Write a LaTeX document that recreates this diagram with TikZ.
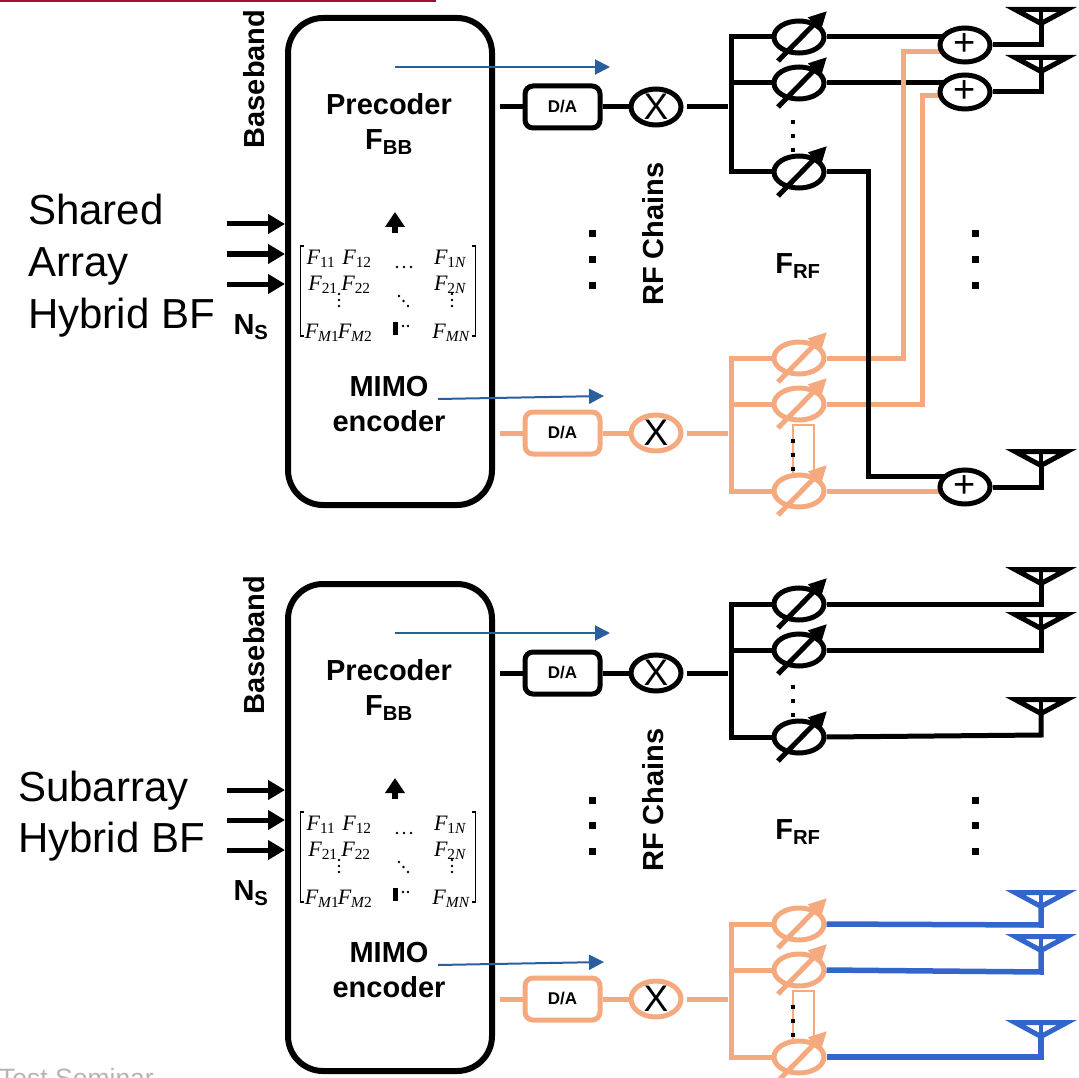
\documentclass[tikz,border=0pt]{standalone}
\usepackage{fontspec}
\setmainfont{Liberation Sans}
\newfontfamily\matfont{Liberation Serif}
\usetikzlibrary{arrows.meta, shapes.geometric, calc, backgrounds}
\definecolor{rfOrange}{HTML}{F4A97F}
\definecolor{rfBlue}{HTML}{3366CC}
\definecolor{flowBlue}{HTML}{2A5F9E}
\definecolor{ruleRed}{HTML}{A01030}
\definecolor{footGray}{HTML}{B4B4B4}
\newcommand{\fsz}[1]{\fontsize{#1}{#1}\selectfont}
\newcommand{\matF}[1]{{\matfont\itshape F\textsubscript{\upshape #1}}}
\begin{document}
\begin{tikzpicture}[x=1pt, y=-1pt,
    bbbox/.style={draw, rounded corners=35pt, line width=6pt, minimum width=204pt, minimum height=487pt, inner sep=0pt},
    dabox/.style={rectangle, rounded corners=8pt, line width=5pt, fill=white, minimum width=75pt, minimum height=42pt, inner sep=0pt, font=\fsz{17}\bfseries},
    mixer/.style={ellipse, line width=5pt, fill=white, minimum width=50pt, minimum height=34pt, inner sep=0pt, text=black, font=\fsz{37}},
    shifter/.style={ellipse, line width=5pt, fill=white, minimum width=50pt, minimum height=32pt, inner sep=0pt},
    combiner/.style={ellipse, draw, line width=5pt, fill=white, minimum width=50pt, minimum height=34pt, inner sep=0pt, font=\fsz{38}},
    wire/.style={line width=5pt, line join=miter},
    tune/.style={-{Triangle[length=18pt,width=17pt]}, line width=5pt},
    feed/.style={-{Triangle[length=17pt,width=19pt]}, line width=5pt},
    flow/.style={-{Triangle[length=15pt,width=15pt]}, line width=2pt, color=flowBlue},
    lbl/.style={font=\fsz{29}\bfseries, align=center, inner sep=0pt},
    side/.style={font=\fsz{42}, align=left, anchor=west, inner sep=0pt},
    ent/.style={font=\fsz{22}, inner sep=0pt},
    antenna/.pic={
      \draw[line width=5pt, line join=miter, miter limit=10] (-26,0) -- (26,0) -- (0,14) -- cycle;
      \draw[line width=3.5pt] (0,0) -- (0,14);
      \coordinate (-feed) at (0,14);
    }]
    \useasboundingbox (0,0) rectangle (1079,1078);
    \draw[line width=2pt, color=ruleRed] (0,1) -- (436,1);
    \node[font=\fsz{26.5}, text=footGray, anchor=base west, inner sep=0pt] (foot) at (-1,1087) {Test Seminar};
    \node[side] (sharedlbl) at (28,266) {Shared\\[10pt]Array\\[10pt]Hybrid BF};
    \node[side] (sublbl) at (18,816) {Subarray\\[9pt]Hybrid BF};
    % thin orange frames behind the dots
    \draw[line width=1.5pt, color=rfOrange] (793,475) -- (793,425) -- (814,425) -- (814,470);
    \draw[line width=1.5pt, color=rfOrange] (793,1041) -- (793,991) -- (814,991) -- (814,1036);
    % left part, same in both panels
    \foreach \p/\dy in {a/0, b/566}{
      \begin{scope}[shift={(0,\dy)}]
        \node[bbbox] (bb\p) at (390,261.5) {};
        \node[lbl, rotate=90] (band\p) at (254,79) {Baseband};
        \node[lbl] (prec\p) at (389,124) {Precoder\\[6pt]F\textsubscript{BB}};
        \node[lbl] (mimo\p) at (389,404) {MIMO\\[6pt]encoder};
        \node[lbl, rotate=90] (chain\p) at (653,234) {RF Chains};
        \node[lbl] (frf\p) at (798,266) {F\textsubscript{RF}};
        \node[lbl] (ns\p) at (251,327) {N\textsubscript{S}};
        \foreach \n/\yy in {1/224, 2/254, 3/284}{
          \coordinate (in\p\n) at (227,\yy);
          \draw[feed] (in\p\n) -- (in\p\n -| bb\p.west);
        }
        \coordinate (fa\p) at (395,67);  \coordinate (fb\p) at (610,67);
        \coordinate (fc\p) at (438,399); \coordinate (fd\p) at (604,396);
        \draw[flow] (fa\p) -- (fb\p);
        \draw[flow] (fc\p) -- (fd\p);
        \coordinate (ua\p) at (395,233); \coordinate (ub\p) at (395,212);
        \draw[-{Triangle[length=15pt,width=19pt]}, line width=6pt] (ua\p) -- (ub\p);
        % matrix
        \foreach \n/\t/\x/\y in {a/11/321/259, b/12/357/259, c/1\itshape N/450/259,
            d/21/323/285, e/22/356/285, f/2\itshape N/450/285,
            g/\itshape M\upshape 1/322/333, h/\itshape M\upshape 2/355/333, i/\itshape MN/451/333}{
          \node[ent] (m\p\n) at (\x,\y) {\matF{\t}};
        }
        \foreach \xx/\yy in {339/294, 339/300, 339/306, 452/294, 452/300, 452/306,
            399/296, 403.5/301, 408/306, 397/267, 404/267, 411/267, 403/326, 408/326}{
          \fill (\xx,\yy) circle (1.4);
        }
        \fill (392.5,322) rectangle (398,335);
        \draw[line width=1.4pt] (304,246) -- (300.5,246) -- (300.5,336) -- (304,336);
        \draw[line width=1.4pt] (472,246) -- (475.5,246) -- (475.5,336) -- (472,336);
        % dots between the chains
        \foreach \xx in {592, 975}{
          \foreach \yy in {234, 259, 285}{
            \fill (\xx-3.5,\yy-3.5) rectangle (\xx+3.5,\yy+3.5);
          }
        }
      \end{scope}
    }
    % one RF chain group
    \foreach \g/\c/\ya/\yb/\yc/\ym/\pan in {ka/black/37/83/172/107/a, oa/rfOrange/358/404/491/433/a,
        kb/black/604/650/737/673/b, ob/rfOrange/924/970/1057/999/b}{
      \node[dabox, draw=\c, text=black] (da\g) at (562.5,\ym) {D/A};
      \node[mixer, draw=\c] (mx\g) at (656,\ym) {X};
      \coordinate (bus\g) at (731,\ym);
      \draw[wire, color=\c, shorten <=5pt] (bb\pan.east |- da\g) -- (da\g.west);
      \draw[wire, color=\c] (da\g.east) -- (mx\g.west);
      \draw[wire, color=\c, shorten <=3pt, shorten >=3pt] (mx\g.east) -- (bus\g);
      \foreach \n/\yy in {1/\ya, 2/\yb, 3/\yc}{
        \node[shifter, draw=\c] (ps\g\n) at (799,\yy) {};
      }
      \draw[wire, color=\c] (ps\g1.west) -| (bus\g) |- (ps\g3.west);
      \draw[wire, color=\c] (bus\g |- ps\g2) -- (ps\g2.west);
      \foreach \n in {1, 2, 3}{
        \coordinate (ar\g\n) at ($(ps\g\n)+(-21,24)$);
        \coordinate (ah\g\n) at ($(ps\g\n)+(28,-26)$);
        \draw[tune, color=\c] (ar\g\n) -- (ah\g\n);
      }
      \foreach \dd in {50, 36, 22}{
        \fill (791,\yc-\dd-2) rectangle (795,\yc-\dd+2);
      }
    }
    % combiners and antennas
    \node[combiner] (cmb1) at (965,45) {+};
    \node[combiner] (cmb2) at (965,92) {+};
    \node[combiner] (cmb3) at (965,487) {+};
    \foreach \n/\yy in {1/9.5, 2/57.5, 3/451.5, 4/569.5, 5/614.5, 6/699.5}{
      \pic (ant\n) at (1041,\yy) {antenna};
    }
    \foreach \n/\yy in {7/892.5, 8/936.5, 9/1022.5}{
      \pic[color=rfBlue] (ant\n) at (1041,\yy) {antenna};
    }
    \coordinate (upa) at (903,52);
    \coordinate (upb) at (922,96);
    \coordinate (dnc) at (868,476);
    \coordinate (tapa) at (1041,45);
    \coordinate (tapb) at (1041,92);
    \coordinate (tapc) at (1041,487);
    \coordinate (tapd) at (1041,604);
    \coordinate (tape) at (1041,650);
    \coordinate (tapf) at (1041,735);
    \coordinate (tapg) at (1041,925);
    \coordinate (taph) at (1041,972);
    \coordinate (tapi) at (1041,1057);
    \begin{scope}[on background layer]
      \draw[wire] (pska1.east) -- (pska1 -| cmb1);
      \draw[wire] (pska2.east) -- (pska2 -| cmb2);
      \draw[wire, color=rfOrange] (psoa1.east) -| (upa) -- (upa -| cmb1);
      \draw[wire, color=rfOrange] (psoa2.east) -| (upb) -- (upb -| cmb2);
      \draw[wire, color=rfOrange] (psoa3.east) -- (psoa3 -| cmb3);
      \draw[wire] (pska3.east) -| (dnc) -- (dnc -| cmb3);
    \end{scope}
    \draw[wire] (cmb1.east |- tapa) -- (tapa) -- (ant1-feed);
    \draw[wire] (cmb2.east |- tapb) -- (tapb) -- (ant2-feed);
    \draw[wire] (cmb3.east |- tapc) -- (tapc) -- (ant3-feed);
    \draw[wire] (pskb1.east) -- (tapd) -- (ant4-feed);
    \draw[wire] (pskb2.east) -- (tape) -- (ant5-feed);
    \draw[wire] (pskb3.east) -- (tapf) -- (ant6-feed);
    \draw[wire, color=rfBlue, line width=5.5pt] (psob1.east) -- (tapg) -- (ant7-feed);
    \draw[wire, color=rfBlue, line width=5.5pt] (psob2.east) -- (taph) -- (ant8-feed);
    \draw[wire, color=rfBlue, line width=5.5pt] (psob3.east) -- (tapi) -- (ant9-feed);
  \end{tikzpicture}
\end{document}
